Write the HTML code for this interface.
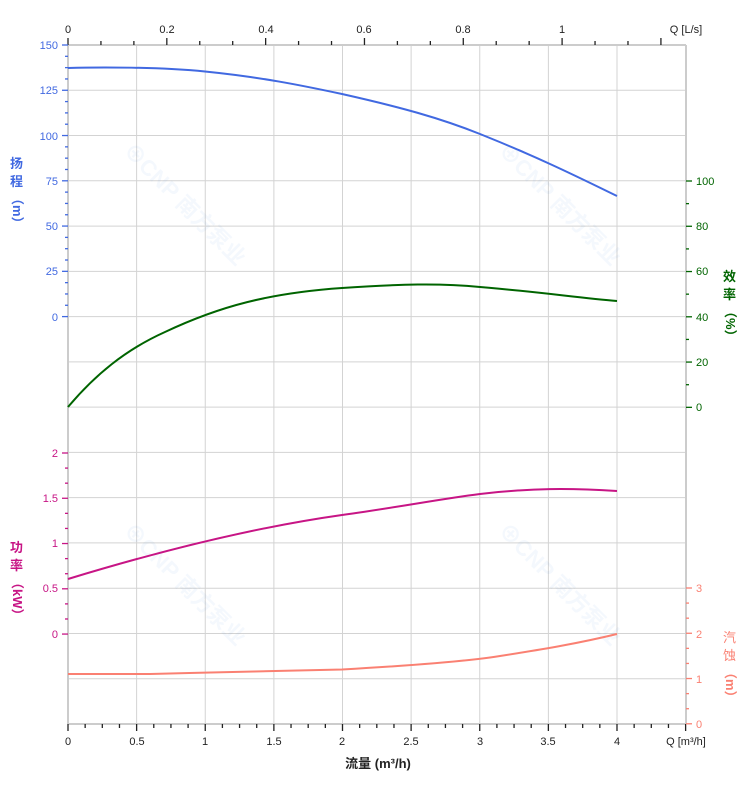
<!DOCTYPE html>
<html><head><meta charset="utf-8"><style>
body{margin:0;background:#fff}
svg{display:block;font-family:"Liberation Sans","Noto Sans CJK SC",sans-serif}
</style></head><body>
<svg id="s" width="752" height="797" viewBox="0 0 752 797" xmlns="http://www.w3.org/2000/svg">
<g id="grid" stroke="#d3d3d3" stroke-width="1"></g>
<g opacity="0.05" fill="#1e6fd0" font-weight="bold" font-size="22">
<text transform="translate(122,152) rotate(45)">⊕CNP 南方泵业</text>
<text transform="translate(497,152) rotate(45)">⊕CNP 南方泵业</text>
<text transform="translate(122,532) rotate(45)">⊕CNP 南方泵业</text>
<text transform="translate(497,532) rotate(45)">⊕CNP 南方泵业</text>
</g>
<g id="ticks" stroke-width="1.3"></g>
<g fill="none" stroke-width="2">
<path stroke="#4169e1" d="M68,68 C100,67 160,67 205,71.5 C260,77 300,85 342,94 C400,107 440,118 480,134 C540,158 580,178 617,196"/>
<path stroke="#006400" d="M68,407 C95,375 125,350 165,332 C220,306 270,293 342,288 C400,284 440,283 480,287 C540,292 580,298 617,301"/>
<path stroke="#c71585" d="M68,579 C150,554 250,528 342,515 C400,507 440,499 480,494 C530,488 570,488 617,491"/>
<path stroke="#fa8072" d="M68,674 L150,674 C220,672 300,671 342,669.5 C420,665 470,661 500,656 C545,649 580,643 617,634"/>
</g>
<g font-size="11" fill="#4169e1" text-anchor="end">
<text x="58" y="49">150</text><text x="58" y="94">125</text><text x="58" y="140">100</text><text x="58" y="185">75</text><text x="58" y="230">50</text><text x="58" y="275">25</text><text x="58" y="321">0</text>
</g>
<g font-size="11" fill="#c71585" text-anchor="end">
<text x="58" y="457">2</text><text x="58" y="502">1.5</text><text x="58" y="547">1</text><text x="58" y="592">0.5</text><text x="58" y="638">0</text>
</g>
<g font-size="11" fill="#006400">
<text x="696" y="185">100</text><text x="696" y="230">80</text><text x="696" y="275">60</text><text x="696" y="321">40</text><text x="696" y="366">20</text><text x="696" y="411">0</text>
</g>
<g font-size="11" fill="#fa8072">
<text x="696" y="592">3</text><text x="696" y="638">2</text><text x="696" y="683">1</text><text x="696" y="728">0</text>
</g>
<g font-size="11" fill="#222" text-anchor="middle">
<text x="68" y="745">0</text><text x="137" y="745">0.5</text><text x="205" y="745">1</text><text x="274" y="745">1.5</text><text x="342" y="745">2</text><text x="411" y="745">2.5</text><text x="480" y="745">3</text><text x="548" y="745">3.5</text><text x="617" y="745">4</text>
<text x="686" y="745">Q [m³/h]</text>
<text x="68" y="33">0</text><text x="167" y="33">0.2</text><text x="266" y="33">0.4</text><text x="364" y="33">0.6</text><text x="463" y="33">0.8</text><text x="562" y="33">1</text><text x="686" y="33">Q [L/s]</text>
</g>
<text x="378" y="768" font-size="13" font-weight="bold" text-anchor="middle" fill="#222">流量 (m³/h)</text>
<g font-size="13" font-weight="bold">
<text fill="#4169e1"><tspan x="10" y="168">扬</tspan><tspan x="10" y="186">程</tspan></text>
<text fill="#4169e1" transform="translate(13,192) rotate(90)" font-size="13">（m）</text>
<text fill="#c71585"><tspan x="10" y="552">功</tspan><tspan x="10" y="570">率</tspan></text>
<text fill="#c71585" transform="translate(13,576) rotate(90)" font-size="13">（kW）</text>
<text fill="#006400"><tspan x="723" y="281">效</tspan><tspan x="723" y="299">率</tspan></text>
<text fill="#006400" transform="translate(726,305) rotate(90)" font-size="13">（%）</text>
<text fill="#fa8072" font-weight="normal"><tspan x="723" y="642">汽</tspan><tspan x="723" y="660">蚀</tspan></text>
<text fill="#fa8072" transform="translate(726,666) rotate(90)" font-size="13">（m）</text>
</g>
</svg>
<script>
var NS="http://www.w3.org/2000/svg";
function L(g,x1,y1,x2,y2,c,w){var l=document.createElementNS(NS,"line");l.setAttribute("x1",x1);l.setAttribute("y1",y1);l.setAttribute("x2",x2);l.setAttribute("y2",y2);if(c)l.setAttribute("stroke",c);if(w)l.setAttribute("stroke-width",w);document.getElementById(g).appendChild(l);}
var dy=679/15;
for(var i=0;i<=15;i++){L("grid",68,45+i*dy,686,45+i*dy);}
for(var i=0;i<=9;i++){L("grid",68+i*68.625,45,68+i*68.625,724);}
L("grid",68,45,68,724,"#ccc",2);L("grid",686,45,686,724,"#ccc",2);
L("grid",68,45,686,45,"#ccc",2);L("grid",68,724,686,724,"#ccc",2);
for(var i=0;i<=36;i++){var x=68+i*17.156;L("ticks",x,724,x,i%4==0?731:728,"#222");}
for(var i=0;i*32.94<=618;i++){var x=68+i*32.94;L("ticks",x,45,x,i%3==0?38:41,"#222");}
for(var i=0;i<=24;i++){var y=45+i*dy/4;L("ticks",i%4==0?62:65,y,68,y,"#4169e1");}
for(var i=0;i<=12;i++){var y=453+i*dy/3;L("ticks",i%3==0?62:65,y,68,y,"#c71585");}
for(var i=0;i<=10;i++){var y=181+i*dy/2;L("ticks",686,y,i%2==0?692:689,y,"#006400");}
for(var i=0;i<=9;i++){var y=588+i*dy/3;L("ticks",686,y,i%3==0?692:689,y,"#fa8072");}
</script>
</body></html>
